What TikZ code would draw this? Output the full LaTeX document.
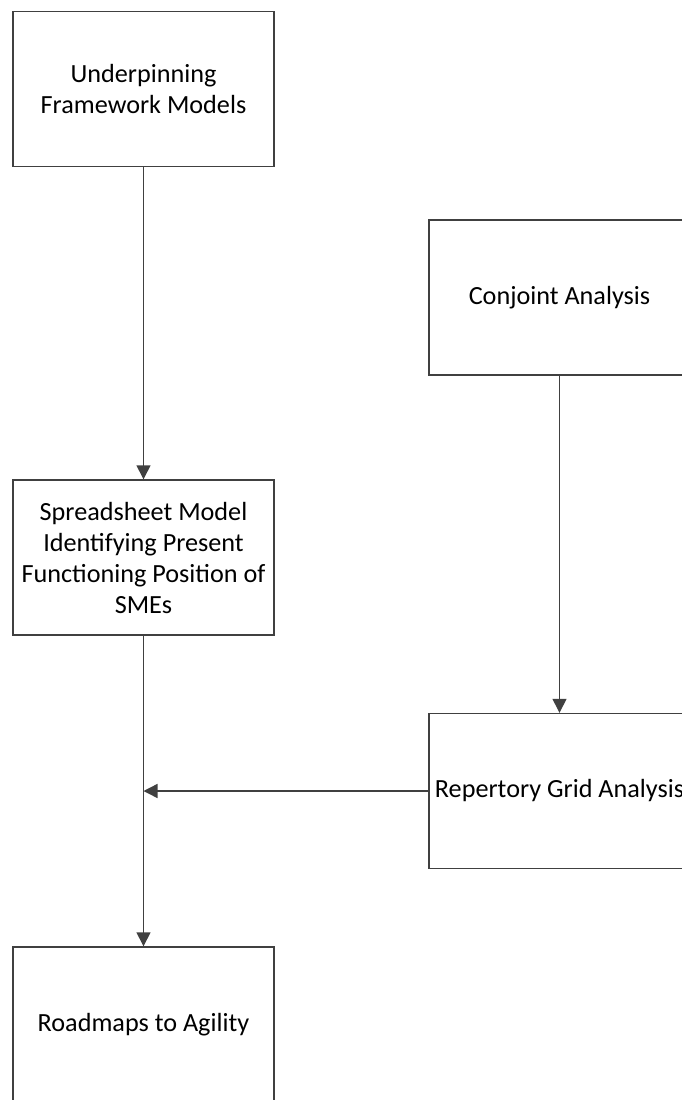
\documentclass[tikz,border=0pt]{standalone}
\usepackage{fontspec}
\setmainfont{Carlito}
\usetikzlibrary{arrows.meta}
\definecolor{linegray}{HTML}{404040}
\begin{document}
\begin{tikzpicture}[x=1pt,y=-1pt]
\fontsize{26.2}{31}\selectfont
\tikzset{stepbox/.style={draw=linegray, line width=1.4pt, rectangle, minimum width=261pt, minimum height=155pt, align=center, inner sep=0pt}}
\clip (0,0) rectangle (682,1100);
\useasboundingbox (0,0) rectangle (682,1100);
\node[stepbox] (frame) at (143.5,89) {Underpinning\\Framework Models};
\node[stepbox] (conjoint) at (559.5,297.5) {Conjoint Analysis};
\node[stepbox] (sheet) at (143.5,557.5) {Spreadsheet Model\\Identifying Present\\Functioning Position of\\SMEs};
\node[stepbox] (grid) at (559.5,791) {Repertory Grid Analysis};
\node[stepbox] (road) at (143.5,1024.5) {Roadmaps to Agility};
\coordinate (join) at (sheet.south |- grid.west);
\path[draw=linegray,line width=1.4pt,-{Triangle[width=14pt,length=14pt]}] (frame) -- (sheet);
\path[draw=linegray,line width=1.4pt,-{Triangle[width=14pt,length=14pt]}] (conjoint) -- (grid);
\path[draw=linegray,line width=1.4pt,-{Triangle[width=14pt,length=14pt]}] (sheet) -- (road);
\path[draw=linegray,line width=1.4pt,-{Triangle[width=14pt,length=14pt]}] (grid) -- (join);
\end{tikzpicture}
\end{document}
